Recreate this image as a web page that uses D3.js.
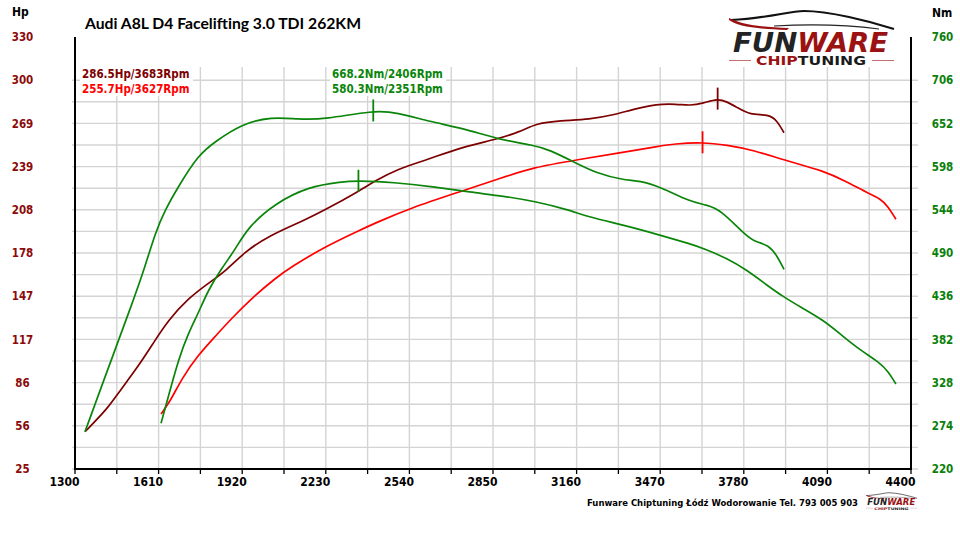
<!DOCTYPE html>
<html lang="pl">
<head>
<meta charset="UTF-8">
<title>Audi A8L D4 Facelifting 3.0 TDI 262KM</title>
<script src="https://d3js.org/d3.v7.min.js"></script>
<style>
  body { margin: 0; background: #fff; }
  svg { display: block; }
</style>
</head>
<body>
<div id="figure" style="width:960px;height:556px"></div>
<script>
// ---- data ----
const title = "Audi A8L D4 Facelifting 3.0 TDI 262KM";

// tuned power (dark red)
const tunedHpRpm = [1337,1422,1459,1534,1596,1646,1720,1794,1856,1930,2017,2153,2227,2350,2412,2493,2604,2740,2864,2950,3012,3098,3210,3296,3370,3457,3531,3581,3630,3683,3717,3754,3803,3871,3902,3929];
const tunedHp    = [51.3,67.9,78.4,97.2,115.6,130.0,145.5,156.1,164.3,178.4,189.5,200.8,207.9,220.8,228.3,236.6,243.2,252.6,257.8,263.1,269.1,270.9,271.9,274.9,279.0,282.7,282.7,281.5,283.2,286.5,284.3,280.4,274.9,275.4,271.4,262.4];

// stock power (red)
const stockHpRpm = [1619,1656,1696,1757,1819,1881,1955,2042,2103,2227,2357,2412,2542,2728,2876,3000,3160,3321,3469,3519,3627,3717,3815,3939,4075,4162,4236,4285,4316,4344];
const stockHp    = [63.8,73.7,89.0,105.5,118.4,131.4,145.5,159.6,167.8,182.0,193.7,198.5,209.1,220.8,230.2,238.0,243.2,248.3,253.0,254.5,255.7,253.7,250.2,242.5,235.6,227.8,220.1,216.1,210.2,201.3];

// tuned torque (green, upper)
const tunedNmRpm = [1337,1448,1510,1560,1597,1634,1683,1757,1819,1918,2029,2128,2227,2406,2493,2616,2740,2876,3000,3061,3148,3234,3333,3395,3469,3581,3642,3692,3791,3828,3871,3902,3929];
const tunedNm    = [266.6,368.8,425.0,472.9,514.6,543.8,572.9,612.5,629.1,651.3,660.4,657.1,657.1,668.2,665.9,654.1,645.9,631.3,625.0,618.8,604.1,589.6,581.3,580.4,572.9,554.1,550.0,544.6,510.4,503.4,500.0,487.5,469.6];

// stock torque (green, lower)
const stockNmRpm = [1619,1646,1683,1720,1757,1794,1844,1893,1943,2042,2165,2289,2351,2480,2629,2765,2888,3012,3123,3210,3333,3469,3581,3630,3717,3791,3865,3926,3988,4075,4149,4211,4285,4316,4344];
const stockNm    = [277.1,310.4,356.3,389.6,414.6,443.8,470.9,493.8,522.9,552.1,572.9,579.1,580.3,578.4,572.9,565.9,561.3,554.1,544.6,534.6,525.0,512.5,501.3,495.9,483.4,468.8,450.0,435.4,422.9,406.3,385.4,368.8,352.9,341.6,326.3];

// peaks: tuned hp, stock hp, tuned Nm, stock Nm
const peakRpm = [3683, 3627, 2406, 2351];
const peakVal = [286.5, 255.7, 668.2, 580.3];

// axis ticks
const rpmTicks = [1300,1610,1920,2230,2540,2850,3160,3470,3780,4090,4400];
const hpTicks  = [25,56,86,117,147,178,208,239,269,300,330];
const nmTicks  = [220,274,328,382,436,490,544,598,652,706,760];

const footer = "Funware Chiptuning Łódź Wodorowanie Tel. 793 005 903";

// ---- layout ----
const W = 960, H = 556;
const mLeft = 75, mRight = 911, mTop = 37, mBottom = 469;
const gridTop = 67;
const cDark = "#7d0000", cRed = "#ff0000", cGreen = "#0a850a", cGrid = "#d4d4d4";

const svg = d3.select("#figure").append("svg")
    .attr("width", W).attr("height", H)
    .style("font-family", "'DejaVu Sans Condensed', 'DejaVu Sans', sans-serif");

const x = d3.scaleLinear().domain([1300, 4400]).range([mLeft, mRight]);
const yHp = d3.scaleLinear().domain([25, 330]).range([mBottom, mTop]);
const yNm = d3.scaleLinear().domain([220, 760]).range([mBottom, mTop]);

// grid: half steps between the labelled ticks
const hpStep = (330 - 25) / 20;
const hGrid = d3.range(0, 19).map(k => 25 + k * hpStep);
const rpmGrid = d3.range(0, 21).map(k => 1300 + k * 155);

const grid = svg.append("g").attr("stroke", cGrid).attr("stroke-width", 1.4);
grid.selectAll("line.h").data(hGrid).join("line")
    .attr("class", "h")
    .attr("x1", mLeft - 3).attr("x2", mRight + 7)
    .attr("y1", d => yHp(d)).attr("y2", d => yHp(d));
grid.selectAll("line.v").data(rpmGrid).join("line")
    .attr("class", "v")
    .attr("x1", d => x(d)).attr("x2", d => x(d))
    .attr("y1", gridTop).attr("y2", mBottom);

// axes frame
const ax = svg.append("g").attr("stroke", "#000").attr("stroke-width", 2);
ax.append("line").attr("x1", mLeft).attr("x2", mLeft).attr("y1", mTop).attr("y2", mBottom + 1);
ax.append("line").attr("x1", mRight).attr("x2", mRight).attr("y1", mTop).attr("y2", mBottom + 1);
ax.append("line").attr("x1", mLeft - 1).attr("x2", mRight + 1).attr("y1", mBottom).attr("y2", mBottom);
ax.selectAll("line.t").data(rpmGrid).join("line")
    .attr("class", "t")
    .attr("stroke-width", 1.3)
    .attr("x1", d => x(d)).attr("x2", d => x(d))
    .attr("y1", mBottom).attr("y2", mBottom + 5);

// tick labels
svg.append("g").selectAll("text").data(rpmTicks).join("text")
    .attr("x", d => x(d) - 10.5).attr("y", 486)
    .attr("text-anchor", "middle")
    .attr("font-size", 12).attr("font-weight", "bold").attr("fill", "#000")
    .text(d => d);
svg.append("g").selectAll("text").data(hpTicks).join("text")
    .attr("x", 22.5).attr("y", (d, i) => yHp(25 + i * 2 * hpStep))
    .attr("dy", "0.36em")
    .attr("text-anchor", "middle")
    .attr("font-size", 11.5).attr("font-weight", "bold").attr("fill", "#8b0a0a")
    .text(d => d);
svg.append("g").selectAll("text").data(nmTicks).join("text")
    .attr("x", 942.5).attr("y", d => yNm(d))
    .attr("dy", "0.36em")
    .attr("text-anchor", "middle")
    .attr("font-size", 11.5).attr("font-weight", "bold").attr("fill", "#0a800a")
    .text(d => d);

svg.append("text").attr("x", 12).attr("y", 16)
    .attr("font-size", 12).attr("font-weight", "bold").text("Hp");
svg.append("text").attr("x", 932).attr("y", 17)
    .attr("font-size", 12).attr("font-weight", "bold").text("Nm");

// title
svg.append("text").attr("x", 85).attr("y", 29)
    .attr("font-family", "Lato, 'Open Sans', sans-serif")
    .attr("font-size", 15.5).attr("font-weight", "bold").attr("fill", "#000")
    .attr("textLength", 276).attr("lengthAdjust", "spacingAndGlyphs")
    .text(title);

// curves
const series = [
  {rpm: tunedHpRpm, val: tunedHp, y: yHp, color: cDark},
  {rpm: stockHpRpm, val: stockHp, y: yHp, color: cRed},
  {rpm: tunedNmRpm, val: tunedNm, y: yNm, color: cGreen},
  {rpm: stockNmRpm, val: stockNm, y: yNm, color: cGreen}
];
const plot = svg.append("g").attr("fill", "none").attr("stroke-width", 1.7)
    .attr("stroke-linejoin", "round");
series.forEach(s => {
  const line = d3.line()
      .x(d => x(d[0]))
      .y(d => s.y(d[1]))
      .curve(d3.curveBasis);
  plot.append("path")
      .datum(d3.zip(s.rpm, s.val))
      .attr("stroke", s.color)
      .attr("d", line);
});

// peak markers
peakRpm.forEach((r, i) => {
  const s = series[i];
  const py = s.y(peakVal[i]);
  plot.append("line")
      .attr("stroke", s.color).attr("stroke-width", 1.8)
      .attr("x1", x(r)).attr("x2", x(r))
      .attr("y1", py - 11).attr("y2", py + 11);
});

// peak labels with white backing
const labels = [
  {x: 82,  y: 78, text: `${peakVal[0]}Hp/${peakRpm[0]}Rpm`, color: cDark},
  {x: 82,  y: 93, text: `${peakVal[1]}Hp/${peakRpm[1]}Rpm`, color: cRed},
  {x: 332, y: 78, text: `${peakVal[2]}Nm/${peakRpm[2]}Rpm`, color: cGreen},
  {x: 332, y: 93, text: `${peakVal[3]}Nm/${peakRpm[3]}Rpm`, color: cGreen}
];
svg.append("rect").attr("x", 80).attr("y", 67).attr("width", 113).attr("height", 29).attr("fill", "#fff");
svg.append("rect").attr("x", 330).attr("y", 67).attr("width", 116).attr("height", 29).attr("fill", "#fff");
svg.append("g").selectAll("text").data(labels).join("text")
    .attr("x", d => d.x).attr("y", d => d.y)
    .attr("font-size", 11.5).attr("font-weight", "bold")
    .attr("fill", d => d.color)
    .text(d => d.text);

// footer
svg.append("text").attr("x", 587).attr("y", 506)
    .attr("font-family", "'DejaVu Sans', Verdana, sans-serif")
    .attr("font-size", 9).attr("font-weight", "bold").attr("fill", "#000")
    .attr("textLength", 271).attr("lengthAdjust", "spacingAndGlyphs")
    .text(footer);

// logo
function logo(g) {
  g.append("path")
      .attr("d", "M2,5 C40,3 60,-4 75,-4 C100,-4 140,6 165,14")
      .attr("fill", "none").attr("stroke", "#111").attr("stroke-width", 2);
  g.append("path")
      .attr("d", "M0,3 C10,8 25,12 60,13 L58,15 C25,14 8,11 0,5 Z")
      .attr("fill", "#9b1212");
  g.append("path")
      .attr("d", "M45,11 C80,9 120,10 150,14")
      .attr("fill", "none").attr("stroke", "#222").attr("stroke-width", 1.2);
  const t = g.append("text").attr("x", 4).attr("y", 37)
      .attr("font-family", "'DejaVu Sans', sans-serif")
      .attr("font-style", "italic").attr("font-weight", "bold")
      .attr("font-size", 26).attr("textLength", 155).attr("lengthAdjust", "spacingAndGlyphs");
  t.append("tspan").attr("fill", "#232323").text("FUN");
  t.append("tspan").attr("fill", "#9b1212").text("WARE");
  const c = g.append("text").attr("x", 27).attr("y", 50)
      .attr("font-family", "'DejaVu Sans', sans-serif").attr("font-weight", "bold")
      .attr("font-size", 11.5).attr("textLength", 110).attr("lengthAdjust", "spacingAndGlyphs");
  c.append("tspan").attr("fill", "#9b1212").text("CHIP");
  c.append("tspan").attr("fill", "#1a1a1a").text("TUNING");
  g.append("line").attr("x1", 0).attr("x2", 22).attr("y1", 45.5).attr("y2", 45.5)
      .attr("stroke", "#c27070").attr("stroke-width", 1);
  g.append("line").attr("x1", 143).attr("x2", 165).attr("y1", 45.5).attr("y2", 45.5)
      .attr("stroke", "#c27070").attr("stroke-width", 1);
}
logo(svg.append("g").attr("transform", "translate(729,15)"));
logo(svg.append("g").attr("transform", "translate(866,494) scale(0.31)"));
</script>
</body>
</html>
